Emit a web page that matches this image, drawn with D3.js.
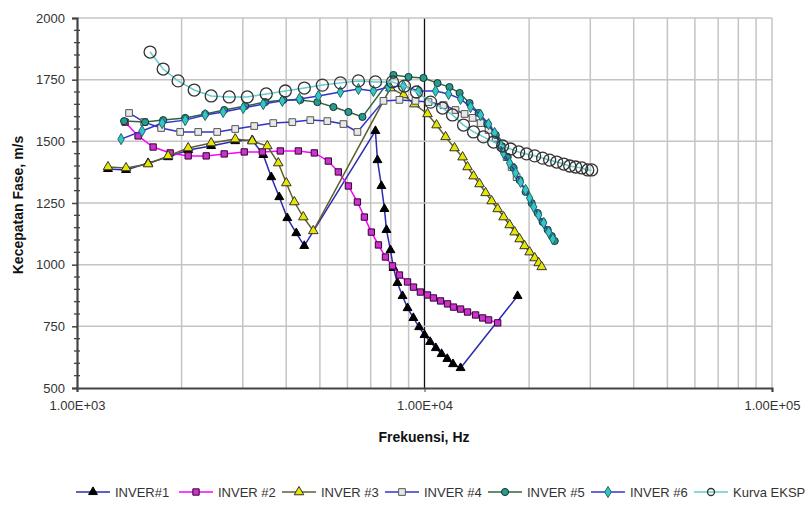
<!DOCTYPE html>
<html><head><meta charset="utf-8">
<script src="https://cdn.jsdelivr.net/npm/d3@7"></script>
<style>body{margin:0;background:#fff}svg{display:block}</style>
</head><body>
<svg id="c" width="809" height="506"></svg>
<script>
const inver1F=[1228,1384,1602,1829,2089,2433,2853,3194,3436,3623,3820,4029,4276,4508,7224,7322,7516,7669,7772,7980,8141,8356,8645,8940,9288,9650,10000,10380,10780,11200,11630,12080,12700,18530];
const inver1V=[1388,1384,1412,1436,1465,1481,1501,1505,1445,1355,1274,1189,1128,1076,1542,1424,1319,1226,1141,1059,987,926,873,824,784,747,715,687,662,638,618,597,581,873];
const inver2F=[1375,1499,1656,1854,2089,2354,2652,3029,3414,3846,4335,4820,5288,5650,6040,6412,6715,7033,7370,7720,8088,8470,8937,9296,9730,10200,10610,11120,11650,12120,12700,13300,14030,14700,15290,16240];
const inver2V=[1578,1522,1477,1453,1441,1441,1449,1457,1457,1461,1461,1453,1420,1376,1319,1254,1193,1132,1080,1031,995,958,930,909,889,877,865,853,841,828,820,808,796,784,776,764];
const inver3F=[1228,1384,1602,1829,2089,2433,2853,3194,3529,3795,4003,4221,4480,4786,7980,8700,9355,10200,10830,11500,12200,12870,13300,13840,14400,14990,15600,16240,16890,17580,18170,18780,19410,20070,20750,21310,21740];
const inver3V=[1396,1392,1408,1441,1473,1493,1509,1501,1481,1412,1331,1254,1193,1137,1716,1688,1651,1611,1566,1518,1473,1436,1396,1359,1327,1291,1258,1226,1193,1161,1132,1104,1076,1051,1027,1007,991];
const inver4F=[1412,1560,1746,1981,2233,2532,2853,3236,3671,4165,4693,5253,5843,6412,7620,8470,9420,10270,11340,12280,13040,13750,14500,15290,16020,16670,17230,17810,18410];
const inver4V=[1615,1578,1554,1538,1538,1538,1550,1562,1574,1578,1586,1582,1570,1538,1664,1668,1664,1659,1647,1627,1611,1595,1574,1546,1514,1477,1436,1396,1355];
const inver5F=[1366,1570,1770,2048,2338,2652,3049,3482,3925,4392,4917,5468,6040,6628,8141,8994,9932,10900,11800,12620,13480,14310,15190,16020,16670,17350,18050,18780,19540,20340,21170,21870,22620,23230,23700];
const inver5V=[1582,1578,1586,1595,1611,1627,1643,1659,1668,1668,1659,1639,1619,1599,1769,1761,1757,1736,1720,1696,1655,1615,1570,1526,1481,1436,1392,1343,1295,1250,1209,1173,1141,1116,1096];
const inver6F=[1339,1539,1758,2048,2338,2634,3008,3436,3898,4363,4950,5728,6455,7129,7876,8700,9610,10760,11730,12700,13570,14500,15290,15910,16450,16890,17580,18290,18910,19540,20070,20620,21310,22030,22770,23400];
const inver6V=[1509,1542,1574,1586,1607,1619,1635,1651,1664,1672,1684,1700,1712,1704,1720,1724,1704,1704,1692,1672,1639,1607,1570,1534,1493,1453,1412,1372,1335,1303,1270,1234,1201,1169,1132,1104];
const ekspF=[1623,1770,1954,2174,2433,2742,3090,3504,3976,4510,5082,5728,6455,7224,8088,8756,9484,10410,11270,12040,12950,13840,14780,15810,16780,17690,18660,19670,20750,21870,22920,24020,25160,26180,27230,28350,29500,30270];
const ekspV=[1862,1793,1745,1708,1684,1680,1680,1692,1704,1716,1728,1737,1745,1741,1741,1724,1700,1659,1635,1607,1566,1538,1518,1497,1481,1469,1457,1449,1441,1432,1424,1416,1408,1400,1396,1392,1384,1384];
const seriesNames=["INVER#1","INVER #2","INVER #3","INVER #4","INVER #5","INVER #6","Kurva EKSP"];
const yTicks=[500,750,1000,1250,1500,1750,2000];
const xTickLabels=["1.00E+03","1.00E+04","1.00E+05"];
const xTickValues=[1e3,1e4,1e5];

const styles=[
 {line:"#2b2bb0",sym:d3.symbolTriangle,size:34,fill:"#000",stroke:"#000"},
 {line:"#ff00ff",sym:d3.symbolSquare,size:40,fill:"#cc33cc",stroke:"#330033"},
 {line:"#5f5f30",sym:d3.symbolTriangle,size:40,fill:"#e6e600",stroke:"#333"},
 {line:"#3333cc",sym:d3.symbolSquare,size:45,fill:"#e8e8e8",stroke:"#555"},
 {line:"#2f6640",sym:d3.symbolCircle,size:40,fill:"#2a9a8e",stroke:"#113333"},
 {line:"#3333cc",sym:d3.symbolDiamond,size:36,fill:"#33c6c6",stroke:"#226666"},
 {line:"#66cccc",sym:"ring",r:6,fill:"none",stroke:"#333"}
];
const data=[[inver1F,inver1V],[inver2F,inver2V],[inver3F,inver3V],[inver4F,inver4V],[inver5F,inver5V],[inver6F,inver6V],[ekspF,ekspV]];

const svg=d3.select("#c");
const L=77,R=772,T=18,B=388;
const x=d3.scaleLog().domain([1e3,1e5]).range([L,R]);
const y=d3.scaleLinear().domain([500,2000]).range([B,T]);

// grid
const g=svg.append("g");
const vgrid=[];
for(let d=1e3;d<1e5;d*=10){for(let k=2;k<=10;k++)vgrid.push(d*k);}
g.selectAll(".vg").data(vgrid).enter().append("line")
 .attr("x1",d=>x(d)).attr("x2",d=>x(d)).attr("y1",T).attr("y2",B)
 .attr("stroke",d=>d===1e4?"#111":"#c4c4c4").attr("stroke-width",d=>d===1e4?1.3:1.5);
g.selectAll(".hg").data(yTicks.filter(v=>v>500)).enter().append("line")
 .attr("x1",L).attr("x2",R).attr("y1",d=>y(d)).attr("y2",d=>y(d))
 .attr("stroke","#c4c4c4").attr("stroke-width",1.5);

// y axis
const yAxis=d3.axisLeft(y).tickValues(yTicks).tickFormat(d3.format("d")).tickSize(5).tickPadding(7);
const ya=svg.append("g").attr("transform",`translate(${L},0)`).call(yAxis);
ya.select(".domain").attr("stroke","#444").attr("stroke-width",2.2);
ya.selectAll(".tick line").attr("stroke","#444").attr("stroke-width",1.5);
ya.selectAll("text").attr("font-family","Liberation Sans, Arial, sans-serif").attr("font-size",13).attr("fill","#333");
const minor=d3.range(550,2000,50).filter(v=>v%250!==0);
svg.append("g").selectAll("line").data(minor).enter().append("line")
 .attr("x1",L-3).attr("x2",L+3).attr("y1",d=>y(d)).attr("y2",d=>y(d)).attr("stroke","#444").attr("stroke-width",1.3);

// x axis
const xAxis=d3.axisBottom(x).tickValues(xTickValues).tickFormat((d,i)=>xTickLabels[i]).tickSize(4).tickPadding(9);
const xa=svg.append("g").attr("transform",`translate(0,${B})`).call(xAxis);
xa.select(".domain").attr("stroke","#444").attr("stroke-width",2.2);
xa.selectAll(".tick line").attr("stroke","#444");
xa.selectAll("text").attr("font-family","Liberation Sans, Arial, sans-serif").attr("font-size",13).attr("fill","#333");

// titles
svg.append("text").attr("x",424).attr("y",442).attr("text-anchor","middle")
 .attr("font-family","Liberation Sans, Arial, sans-serif").attr("font-weight","bold").attr("font-size",14).attr("fill","#111").text("Frekuensi, Hz");
svg.append("text").attr("transform","translate(23,205) rotate(-90)").attr("text-anchor","middle")
 .attr("font-family","Liberation Sans, Arial, sans-serif").attr("font-weight","bold").attr("font-size",14).attr("fill","#111").text("Kecepatan Fase, m/s");

// series
const line=d3.line().x(d=>x(d[0])).y(d=>y(d[1]));
function marker(sel,st){
 if(st.sym==="ring"){
  sel.append("circle").attr("r",st.r).attr("fill","none").attr("stroke",st.stroke).attr("stroke-width",1.3);
 } else {
  sel.append("path").attr("d",d3.symbol().type(st.sym).size(st.size)()).attr("fill",st.fill).attr("stroke",st.stroke).attr("stroke-width",1);
 }
}
data.forEach((s,i)=>{
 const pts=s[0].map((f,j)=>[f,s[1][j]]);
 const st=styles[i];
 const sg=svg.append("g");
 sg.append("path").datum(pts).attr("d",line).attr("fill","none").attr("stroke",st.line).attr("stroke-width",1.5);
 const m=sg.selectAll("g").data(pts).enter().append("g").attr("transform",d=>`translate(${x(d[0])},${y(d[1])})`);
 marker(m,st);
});

// legend
const lg=svg.append("g");
seriesNames.forEach((n,i)=>{
 const x0=76+i*103, yy=492;
 const it=lg.append("g");
 it.append("line").attr("x1",x0).attr("x2",x0+34).attr("y1",yy).attr("y2",yy).attr("stroke",styles[i].line).attr("stroke-width",1.5);
 const mg=it.append("g").attr("transform",`translate(${x0+17},${yy})`);
 const st=Object.assign({},styles[i]); if(st.sym==="ring") st.r=3.5;
 marker(mg,st);
 it.append("text").attr("x",x0+39).attr("y",yy+4.5).attr("font-family","Liberation Sans, Arial, sans-serif").attr("font-size",13).attr("fill","#333").text(n);
});
</script>
</body></html>
